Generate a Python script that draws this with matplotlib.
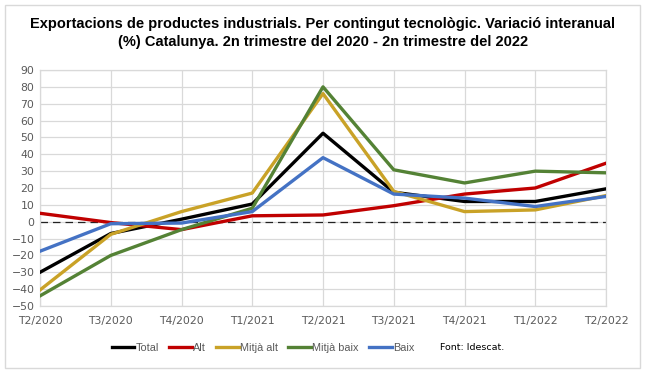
import matplotlib
matplotlib.use("Agg")
import matplotlib.pyplot as plt
from matplotlib.patches import Rectangle

# Data
quarters = ["T2/2020", "T3/2020", "T4/2020", "T1/2021", "T2/2021",
            "T3/2021", "T4/2021", "T1/2022", "T2/2022"]
total = [-30, -7, 1.5, 10.5, 52.5, 17.5, 12, 12, 19.5]
alt = [5, -0.5, -4.7, 3.5, 4, 9.5, 16.4, 20, 34.7]
mitja_alt = [-40.5, -7.5, 6, 17, 76, 18, 6, 7, 15.5]
mitja_baix = [-44, -20, -4.7, 8, 80, 30.8, 23, 30, 29]
baix = [-17.5, -1.2, -0.8, 6, 38, 16.4, 14, 9, 15]

series = [
    ("Total", total, "#000000"),
    ("Alt", alt, "#C00000"),
    ("Mitjà alt", mitja_alt, "#C9A227"),
    ("Mitjà baix", mitja_baix, "#548235"),
    ("Baix", baix, "#4472C4"),
]

fig = plt.figure(figsize=(6.46, 3.77), dpi=100)
fig.patches.append(Rectangle((5 / 646, 1 - 368 / 377), 635 / 646, 363 / 377,
                             transform=fig.transFigure, fill=False,
                             edgecolor="#d9d9d9", linewidth=1))

ax = fig.add_axes([40 / 646, 1 - 306 / 377, 566 / 646, 236 / 377])

x = list(range(len(quarters)))
for name, vals, col in series:
    ax.plot(x, vals, color=col, linewidth=2.4, label=name, zorder=3)

ax.axhline(0, color="#222222", linewidth=0.9, linestyle=(0, (6, 4)), zorder=2)

ax.set_xlim(0, len(quarters) - 1)
ax.set_ylim(-50, 90)
ax.set_yticks(range(-50, 91, 10))
ax.set_xticks(x)
ax.set_xticklabels(quarters)
ax.grid(True, color="#d9d9d9", linewidth=0.9)
ax.set_axisbelow(True)
for s in ax.spines.values():
    s.set_color("#d9d9d9")
    s.set_linewidth(0.9)
ax.tick_params(length=0, labelsize=7.8, colors="#595959", pad=4)
ax.tick_params(axis="x", pad=7)

fig.text(0.5, 1 - 33 / 377,
         "Exportacions de productes industrials. Per contingut tecnològic. Variació interanual\n"
         "(%) Catalunya. 2n trimestre del 2020 - 2n trimestre del 2022",
         ha="center", va="center", fontsize=10.5, fontweight="bold",
         family=["Liberation Sans Narrow", "Liberation Sans", "DejaVu Sans"],
         linespacing=1.3)

leg = fig.legend(loc="center", bbox_to_anchor=(263 / 646, 1 - 348 / 377),
                 ncol=5, frameon=False, fontsize=7.2, handlelength=2.1,
                 handletextpad=0.15, columnspacing=0.9,
                 prop={"family": ["Liberation Sans Narrow", "Liberation Sans"],
                       "size": 7.8})
for t in leg.get_texts():
    t.set_color("#595959")

fig.text(472 / 646, 1 - 348 / 377, "Font: Idescat.", fontsize=6.8,
         ha="center", va="center", color="#000000")

fig.savefig("out.png", dpi=100)
plt.close(fig)
